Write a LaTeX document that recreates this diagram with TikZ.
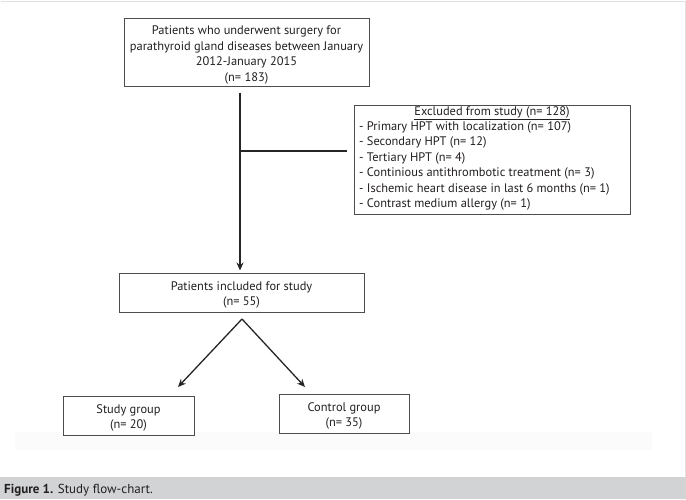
\documentclass[tikz,border=0pt]{standalone}
\usepackage{fontspec}
\setmainfont{PT Sans}
\usetikzlibrary{arrows.meta,calc}
\definecolor{capbar}{HTML}{D1D3D4}
\definecolor{ink}{HTML}{231F20}
\begin{document}
\begin{tikzpicture}[x=1pt,y=-1pt,
  box/.style={draw=black!70, line width=1pt, fill=white, inner sep=0pt},
  txt/.style={inner sep=0pt, text=ink, font=\fontsize{12.4}{15.5}\selectfont, align=center},
  ltxt/.style={inner sep=0pt, text=ink, font=\fontsize{12.4}{15.4}\selectfont, align=left},
  arr/.style={line width=1.3pt, draw=black!85, -{Stealth[length=8pt,width=7pt]}},
  plain/.style={line width=1.3pt, draw=black!85}]
\useasboundingbox (0,0) rectangle (686,499);
% faint frame and band
\draw[black!12, line width=0.8pt] (0.5,1) -- (685,1) -- (685,477);
\fill[black!1.5] (15,432) rectangle (652,450);
% boxes
\node[box, minimum width=245pt, minimum height=68pt] (top) at (246.5,52) {};
\node[txt] (toptxt) at (246.5,55) {Patients who underwent surgery for\\parathyroid gland diseases between January\\2012-January 2015\\(n= 183)};
\node[box, minimum width=276pt, minimum height=109pt] (excl) at (492,159.5) {};
\node[txt, anchor=base] (excltitle) at (492,115.5) {\underline{Excluded from study (n= 128)}};
\node[ltxt, anchor=north west] (excllist) at (359,121.5) {- Primary HPT with localization (n= 107)\\- Secondary HPT (n= 12)\\- Tertiary HPT (n= 4)\\- Continious antithrombotic treatment (n= 3)\\- Ischemic heart disease in last 6 months (n= 1)\\- Contrast medium allergy (n= 1)};
\node[box, minimum width=245pt, minimum height=39pt] (incl) at (241.5,292.5) {};
\node[txt] (incltxt) at (241.5,295) {Patients included for study\\(n= 55)};
\node[box, minimum width=131pt, minimum height=39pt] (study) at (128.5,415.5) {};
\node[txt] (studytxt) at (128.5,418) {Study group\\(n= 20)};
\node[box, minimum width=130pt, minimum height=39pt] (control) at (344,413.5) {};
\node[txt] (controltxt) at (344,416) {Control group\\(n= 35)};
% connectors
\coordinate (vline) at (240,0);
\draw[arr, line width=1.8pt, shorten <=6pt, shorten >=2pt] (top.south -| vline) -- (incl.north -| vline);
\coordinate (hstart) at (240,151);
\draw[plain, shorten >=7pt] (hstart) -- (excl.west |- hstart);
\coordinate (apex) at (242,319);
\coordinate (ltip) at (178,387);
\coordinate (rtip) at (305,387);
\draw[arr] (apex) -- (ltip);
\draw[arr] (apex) -- (rtip);
% caption bar
\fill[capbar] (0,477) rectangle (686,499);
\node[anchor=base west, inner sep=0pt, text=ink, font=\fontsize{13}{15}\selectfont] (cap) at (4,493) {\textbf{Figure 1.} Study flow-chart.};
\end{tikzpicture}
\end{document}
